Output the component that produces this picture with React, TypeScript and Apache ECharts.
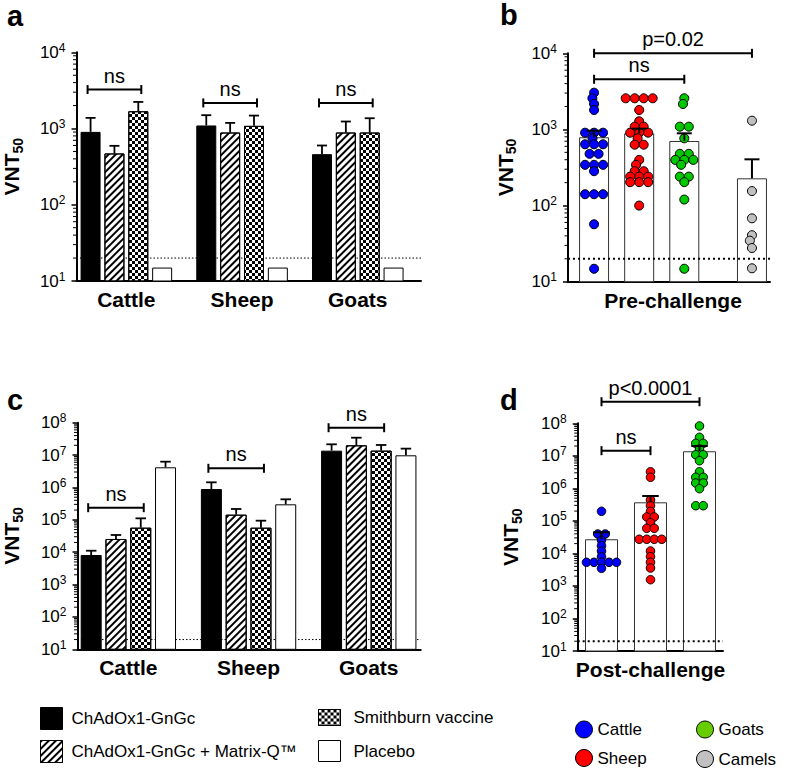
import React, { useEffect, useRef } from 'react';
import * as echarts from 'echarts';

const FONT = '"Liberation Sans", Arial, Helvetica, sans-serif';

// ---------- shared ----------
const vaccineNames = ['ChAdOx1-GnGc', 'ChAdOx1-GnGc + Matrix-Q™', 'Smithburn vaccine', 'Placebo'];
const speciesGroups = ['Cattle', 'Sheep', 'Goats'];
const dotSpecies = ['Cattle', 'Sheep', 'Goats', 'Camels'];
const LOD = 20;

// ---------- panel a (pre-challenge, by vaccine) ----------
const aChAdOx = [904, 1097, 461];
const aChAdOxErr = [1380, 1497, 599];
const aMatrix = [471, 887, 887];
const aMatrixErr = [593, 1186, 1236];
const aSmith = [1686, 1084, 887];
const aSmithErr = [2233, 1479, 1365];
const aPlacebo = [15, 15, 15];
const aPlaceboErr: (number | null)[] = [null, null, null];
const aBracketY = [3245, 2168, 2168];
const aBracketLabels = ['ns', 'ns', 'ns'];

// ---------- panel c (post-challenge, by vaccine) ----------
const cChAdOx = [8180, 896000, 13700000];
const cChAdOxErr = [11100, 1440000, 21500000];
const cMatrix = [25600, 144000, 20000000];
const cMatrixErr = [34000, 216000, 34400000];
const cSmith = [57100, 57100, 13700000];
const cSmithErr = [111000, 94000, 20500000];
const cPlacebo = [4190000, 301000, 9840000];
const cPlaceboErr = [6250000, 430000, 15800000];
const cBracketY = [237000, 3900000, 70000000];
const cBracketLabels = ['ns', 'ns', 'ns'];

// ---------- panel b (pre-challenge, by species) ----------
const preCattle = [3040, 2566, 2160, 1800, 906, 906, 906, 764, 638, 638, 638, 478, 478, 343, 343, 343, 283, 141, 141, 141, 56.8, 14.8];
const preSheep = [2566, 2566, 2566, 2566, 1800, 1280, 1087, 1087, 906, 906, 906, 764, 630, 630, 398, 343, 283, 283, 240, 240, 240, 203, 203, 203, 100];
const preGoats = [2566, 2160, 1087, 1087, 764, 478, 478, 398, 398, 398, 343, 240, 240, 203, 120, 14.8];
const preCamels = [1303, 155, 68, 40.8, 34.6, 27.7, 15];
const preMean = [789, 889, 705, 228];
const preErrTop = [962, 1024, 889, 405];
const preBracketFrom = [0, 0];
const preBracketTo = [3, 2];
const preBracketY = [10000, 4560];
const preBracketLabels = ['p=0.02', 'ns'];

// ---------- panel d (post-challenge, by species) ----------
const postCattle = [197000, 39500, 39500, 25700, 17250, 11860, 7930, 5330, 5330, 5330, 5330, 5330, 3480];
const postSheep = [3250000, 2190000, 439000, 293000, 197000, 132000, 132000, 87900, 59100, 59100, 27200, 27200, 27200, 27200, 11860, 7930, 5330, 3560, 1557];
const postGoats = [82600000, 37100000, 24200000, 24200000, 16200000, 10800000, 10800000, 7080000, 3250000, 2190000, 2190000, 1460000, 1460000, 977000, 293000, 293000];
const postMean = [27200, 372000, 13800000];
const postErrTop = [44600, 582000, 20000000];
const postBracketFrom = [0, 0];
const postBracketTo = [2, 1];
const postBracketY = [460000000, 14400000];
const postBracketLabels = ['p<0.0001', 'ns'];

// ---------- layout ----------
const GROUP_PITCH = 4.85;
const PRE_SLOTS = [0, 1, 2, 3.5];
const POST_SLOTS = [0, 1, 2];
const PA = { left: 73.5, top: 52.3, width: 347.5, height: 228.7, xmin: -0.59, xmax: 13.85, barW: 20, ymax: 1e4 };
const PB = { left: 568, top: 53.3, width: 202, height: 228.4, xmin: -0.578, xmax: 3.9, barW: 30, ymax: 1e4 };
const PC = { left: 74.5, top: 422.7, width: 346.2, height: 226.6, xmin: -0.552, xmax: 13.296, barW: 21, ymax: 1e8 };
const PD = { left: 577.7, top: 423.3, width: 145.3, height: 227.7, xmin: -0.486, xmax: 2.48, barW: 33, ymax: 1e8 };

const dotColors = ['#0000ff', '#ff0000', '#00c800', '#c0c0c0'];
const legendDotColors = ['#0000ff', '#ff0000', '#66cc00', '#c0c0c0'];

const hatchDecal = {
  symbol: 'rect', symbolSize: 1, color: '#000', backgroundColor: '#fff',
  dashArrayX: [1, 0], dashArrayY: [1.7, 2.5], rotation: -Math.PI / 4,
};
const checkDecal = {
  symbol: 'rect', symbolSize: 1, color: '#000', backgroundColor: '#fff',
  dashArrayX: [[3, 3], [0, 3, 3, 0]], dashArrayY: [3, 0], rotation: 0,
};
const vaccineStyles: any[] = [
  { color: '#000', borderColor: '#000', borderWidth: 1 },
  { color: '#fff', borderColor: '#000', borderWidth: 1, decal: hatchDecal },
  { color: '#fff', borderColor: '#000', borderWidth: 1, decal: checkDecal },
  { color: '#fff', borderColor: '#000', borderWidth: 1 },
];

function decades(p: any) { return Math.log10(p.ymax) - 1; }

function yAxisFor(gi: number, p: any, nameGap: number) {
  return {
    type: 'log', logBase: 10, gridIndex: gi, min: 10, max: p.ymax,
    axisLine: { show: true, onZero: false, lineStyle: { color: '#000', width: 2 } },
    axisTick: { show: true, length: 5, lineStyle: { color: '#000', width: 1.5 } },
    splitLine: { show: false },
    axisLabel: {
      margin: 11,
      formatter: (v: number) => `{b|10}{s|${Math.round(Math.log10(v))}}`,
      rich: {
        b: { fontSize: 17, fontFamily: FONT, color: '#000', lineHeight: 21 },
        s: { fontSize: 12, fontFamily: FONT, color: '#000', verticalAlign: 'top', lineHeight: 12 },
      },
    },
    name: '{v|VNT}{s|50}', nameLocation: 'middle', nameRotate: 90, nameGap,
    nameTextStyle: {
      rich: {
        v: { fontSize: 21, fontWeight: 'bold', fontFamily: FONT, color: '#000', lineHeight: 26 },
        s: { fontSize: 14, fontWeight: 'bold', fontFamily: FONT, color: '#000', verticalAlign: 'bottom', lineHeight: 14 },
      },
    },
  };
}

function xAxisFor(gi: number, p: any, labelValues: number[], labels: string[]) {
  return {
    type: 'value', gridIndex: gi, min: p.xmin, max: p.xmax,
    axisLine: { show: true, onZero: false, lineStyle: { color: '#000', width: 2 } },
    axisTick: { show: false }, splitLine: { show: false },
    axisLabel: {
      customValues: labelValues,
      formatter: (v: number) => {
        let best = 0;
        labelValues.forEach((lv, i) => { if (Math.abs(lv - v) < Math.abs(labelValues[best] - v)) best = i; });
        return labels[best];
      },
      fontSize: 21, fontWeight: 'bold', fontFamily: FONT, color: '#000', margin: 8,
    },
  };
}

function minorTickSeries(gi: number, p: any) {
  const vals: number[][] = [];
  for (let e = 1; e < Math.log10(p.ymax); e++) for (let k = 2; k <= 9; k++) vals.push([p.xmin, k * Math.pow(10, e)]);
  return {
    type: 'custom', xAxisIndex: gi, yAxisIndex: gi, clip: false, silent: true, z: 6,
    encode: { x: 0, y: 1 }, data: vals,
    renderItem: (params: any, api: any) => {
      const c = api.coord([api.value(0), api.value(1)]);
      return { type: 'line', shape: { x1: c[0] - 3.5, y1: c[1], x2: c[0], y2: c[1] }, style: { stroke: '#000', lineWidth: 1 } };
    },
  };
}

function errorBarSeries(gi: number, data: number[][], capW: number, lw: number, z: number) {
  return {
    type: 'custom', xAxisIndex: gi, yAxisIndex: gi, clip: false, silent: true, z,
    encode: { x: 0, y: [1, 2] }, data,
    renderItem: (params: any, api: any) => {
      const x = api.value(0);
      const a = api.coord([x, api.value(1)]);
      const b = api.coord([x, api.value(2)]);
      return {
        type: 'group', children: [
          { type: 'line', shape: { x1: a[0], y1: a[1], x2: b[0], y2: b[1] }, style: { stroke: '#000', lineWidth: lw } },
          { type: 'line', shape: { x1: b[0] - capW / 2, y1: b[1], x2: b[0] + capW / 2, y2: b[1] }, style: { stroke: '#000', lineWidth: lw } },
        ],
      };
    },
  };
}

function bracketSeries(gi: number, data: number[][], labels: string[], ext: number) {
  return {
    type: 'custom', xAxisIndex: gi, yAxisIndex: gi, clip: false, silent: true, z: 7,
    encode: { x: [0, 1], y: 2 }, data,
    renderItem: (params: any, api: any) => {
      const a = api.coord([api.value(0), api.value(2)]);
      const b = api.coord([api.value(1), api.value(2)]);
      const x1 = a[0] - ext, x2 = b[0] + ext, y = a[1];
      const st = { stroke: '#000', lineWidth: 2 };
      return {
        type: 'group', children: [
          { type: 'line', shape: { x1, y1: y, x2, y2: y }, style: st },
          { type: 'line', shape: { x1, y1: y - 4.5, x2: x1, y2: y + 4.5 }, style: st },
          { type: 'line', shape: { x1: x2, y1: y - 4.5, x2, y2: y + 4.5 }, style: st },
          { type: 'text', x: (x1 + x2) / 2, y: y - 14, style: { text: labels[params.dataIndex], fontSize: 20, fontFamily: FONT, fill: '#000', align: 'center', verticalAlign: 'middle' } },
        ],
      };
    },
  };
}

function lodSeries(gi: number, p: any, width: number, dash: number[], z: number) {
  return {
    type: 'line', xAxisIndex: gi, yAxisIndex: gi, silent: true, z, symbol: 'none',
    data: [[p.xmin, LOD], [p.xmax, LOD]],
    lineStyle: { color: '#000', width, type: dash },
  };
}

// beeswarm-like horizontal spreading (deterministic), values unchanged
function swarm(values: number[], slot: number, p: any, spacing: number) {
  const pxPerDecade = p.height / decades(p);
  const pxPerUnit = p.width / (p.xmax - p.xmin);
  const pts = values.map((v) => ({ v, y: -Math.log10(v) * pxPerDecade })).sort((a, b) => a.y - b.y);
  const clusters: any[][] = [];
  pts.forEach((pt) => {
    const last = clusters[clusters.length - 1];
    if (last && pt.y - last[0].y < 2) last.push(pt); else clusters.push([pt]);
  });
  const placed: { x: number; y: number }[] = [];
  const out: number[][] = [];
  const minD = spacing * 0.65;
  clusters.forEach((c) => {
    if (c.length > 1) {
      c.forEach((pt, i) => {
        const dx = (i - (c.length - 1) / 2) * spacing;
        placed.push({ x: dx, y: pt.y });
        out.push([slot + dx / pxPerUnit, pt.v]);
      });
    } else {
      const pt = c[0];
      const cands = [0];
      placed.forEach((q) => {
        const dy = Math.abs(q.y - pt.y);
        if (dy < minD) { const h = Math.sqrt(minD * minD - dy * dy); cands.push(q.x - h, q.x + h); }
      });
      cands.sort((a, b) => Math.abs(a) - Math.abs(b) || a - b);
      let dx = 0;
      for (const cx of cands) {
        if (placed.every((q) => Math.hypot(q.x - cx, q.y - pt.y) >= minD - 1e-6)) { dx = cx; break; }
      }
      placed.push({ x: dx, y: pt.y });
      out.push([slot + dx / pxPerUnit, pt.v]);
    }
  });
  return out;
}

function groupedPanelSeries(gi: number, p: any, means: number[][], errs: (number | null)[][], bracketY: number[], bracketLabels: string[]) {
  const s: any[] = [];
  s.push(lodSeries(gi, p, 1, [1.5, 2], 1));
  vaccineNames.forEach((name, k) => {
    s.push({
      type: 'bar', name, xAxisIndex: gi, yAxisIndex: gi, barWidth: p.barW, barGap: '-100%', z: 2, silent: true,
      data: speciesGroups.map((_, g) => [g * GROUP_PITCH + k, means[k][g]]),
      itemStyle: vaccineStyles[k],
    });
  });
  const ed: number[][] = [];
  vaccineNames.forEach((_, k) => speciesGroups.forEach((_, g) => {
    const e = errs[k][g];
    if (e != null) ed.push([g * GROUP_PITCH + k, means[k][g], e]);
  }));
  s.push(errorBarSeries(gi, ed, p.barW / 2, 1.8, 3));
  s.push(bracketSeries(gi, speciesGroups.map((_, g) => [g * GROUP_PITCH, g * GROUP_PITCH + 2, bracketY[g]]), bracketLabels, 3));
  s.push(minorTickSeries(gi, p));
  return s;
}

function dotPanelSeries(gi: number, p: any, slots: number[], groups: number[][], means: number[], errTop: number[],
  bFrom: number[], bTo: number[], bY: number[], bLabels: string[], symbolSize: number, spacing: number) {
  const s: any[] = [];
  s.push({
    type: 'bar', name: 'mean' + gi, xAxisIndex: gi, yAxisIndex: gi, barWidth: p.barW, z: 1, silent: true,
    data: means.map((m, i) => [slots[i], m]),
    itemStyle: { color: '#fff', borderColor: '#333', borderWidth: 1 },
  });
  s.push(lodSeries(gi, p, 2, [2, 3], 2));
  groups.forEach((vals, i) => {
    s.push({
      type: 'scatter', name: dotSpecies[i], xAxisIndex: gi, yAxisIndex: gi, silent: true, z: 3,
      symbol: 'circle', symbolSize,
      data: swarm(vals, slots[i], p, spacing),
      itemStyle: { color: dotColors[i], borderColor: '#000', borderWidth: 1, opacity: 1 },
    });
  });
  s.push(errorBarSeries(gi, means.map((m, i) => [slots[i], m, errTop[i]]), p.barW / 2, 2, 4));
  s.push(bracketSeries(gi, bFrom.map((f, i) => [slots[f], slots[bTo[i]], bY[i]]), bLabels, 0));
  s.push(minorTickSeries(gi, p));
  return s;
}

function legendItem(name: string, left: number, top: number, w: number, h: number, icon: string, itemStyle: any, pad: number) {
  return {
    data: [{ name, icon, itemStyle }], left, top, orient: 'vertical', padding: 0,
    itemWidth: w, itemHeight: h, selectedMode: false,
    textStyle: { fontSize: 17, fontFamily: FONT, color: '#000', padding: [0, 0, 0, pad] },
  };
}

function letter(text: string, x: number, y: number) {
  return { type: 'text', x, y, style: { text, fontSize: 29, fontWeight: 'bold', fontFamily: FONT, fill: '#000', verticalAlign: 'top' } };
}

function buildOption() {
  const groupCentres = speciesGroups.map((_, g) => g * GROUP_PITCH + 1.5);
  const series = [
    ...groupedPanelSeries(0, PA, [aChAdOx, aMatrix, aSmith, aPlacebo], [aChAdOxErr, aMatrixErr, aSmithErr, aPlaceboErr], aBracketY, aBracketLabels),
    ...dotPanelSeries(1, PB, PRE_SLOTS, [preCattle, preSheep, preGoats, preCamels], preMean, preErrTop,
      preBracketFrom, preBracketTo, preBracketY, preBracketLabels, 9, 9),
    ...groupedPanelSeries(2, PC, [cChAdOx, cMatrix, cSmith, cPlacebo], [cChAdOxErr, cMatrixErr, cSmithErr, cPlaceboErr], cBracketY, cBracketLabels),
    ...dotPanelSeries(3, PD, POST_SLOTS, [postCattle, postSheep, postGoats], postMean, postErrTop,
      postBracketFrom, postBracketTo, postBracketY, postBracketLabels, 8.5, 7.5),
  ];
  const panels = [PA, PB, PC, PD];
  return {
    animation: false,
    backgroundColor: '#fff',
    grid: panels.map((p) => ({ left: p.left, top: p.top, width: p.width, height: p.height, containLabel: false })),
    xAxis: [
      xAxisFor(0, PA, groupCentres, speciesGroups),
      xAxisFor(1, PB, [(PRE_SLOTS[0] + PRE_SLOTS[3]) / 2], ['Pre-challenge']),
      xAxisFor(2, PC, groupCentres, speciesGroups),
      xAxisFor(3, PD, [POST_SLOTS[1]], ['Post-challenge']),
    ],
    yAxis: [yAxisFor(0, PA, 52), yAxisFor(1, PB, 50), yAxisFor(2, PC, 53), yAxisFor(3, PD, 54)],
    legend: [
      legendItem(vaccineNames[0], 40, 707, 22, 22, 'rect', { borderColor: '#000', borderWidth: 1 }, 4),
      legendItem(vaccineNames[1], 40, 740, 22, 22, 'rect', { borderColor: '#000', borderWidth: 1 }, 4),
      legendItem(vaccineNames[2], 318, 709, 22, 16, 'rect', { borderColor: '#000', borderWidth: 1 }, 8),
      legendItem(vaccineNames[3], 318, 740, 22, 21, 'rect', { borderColor: '#000', borderWidth: 1 }, 8),
      legendItem(dotSpecies[0], 575, 720.5, 17, 17, 'circle', { color: legendDotColors[0], borderColor: '#000', borderWidth: 1 }, 0),
      legendItem(dotSpecies[1], 575, 749, 17, 17, 'circle', { color: legendDotColors[1], borderColor: '#000', borderWidth: 1 }, 0),
      legendItem(dotSpecies[2], 696, 720.5, 17, 17, 'circle', { color: legendDotColors[2], borderColor: '#000', borderWidth: 1 }, 0),
      legendItem(dotSpecies[3], 696, 750, 17, 17, 'circle', { color: legendDotColors[3], borderColor: '#000', borderWidth: 1 }, 0),
    ],
    graphic: [letter('a', 7, 1), letter('b', 500, 0), letter('c', 7, 385), letter('d', 500, 385)],
    series,
  };
}

export default function App() {
  const ref = useRef<HTMLDivElement>(null);
  useEffect(() => {
    if (!ref.current) return;
    const chart = echarts.init(ref.current, null, { renderer: 'svg' });
    chart.setOption(buildOption() as any);
    return () => chart.dispose();
  }, []);
  return <div ref={ref} style={{ position: 'absolute', left: 0, top: 0, width: 787, height: 769, background: '#fff' }} />;
}
